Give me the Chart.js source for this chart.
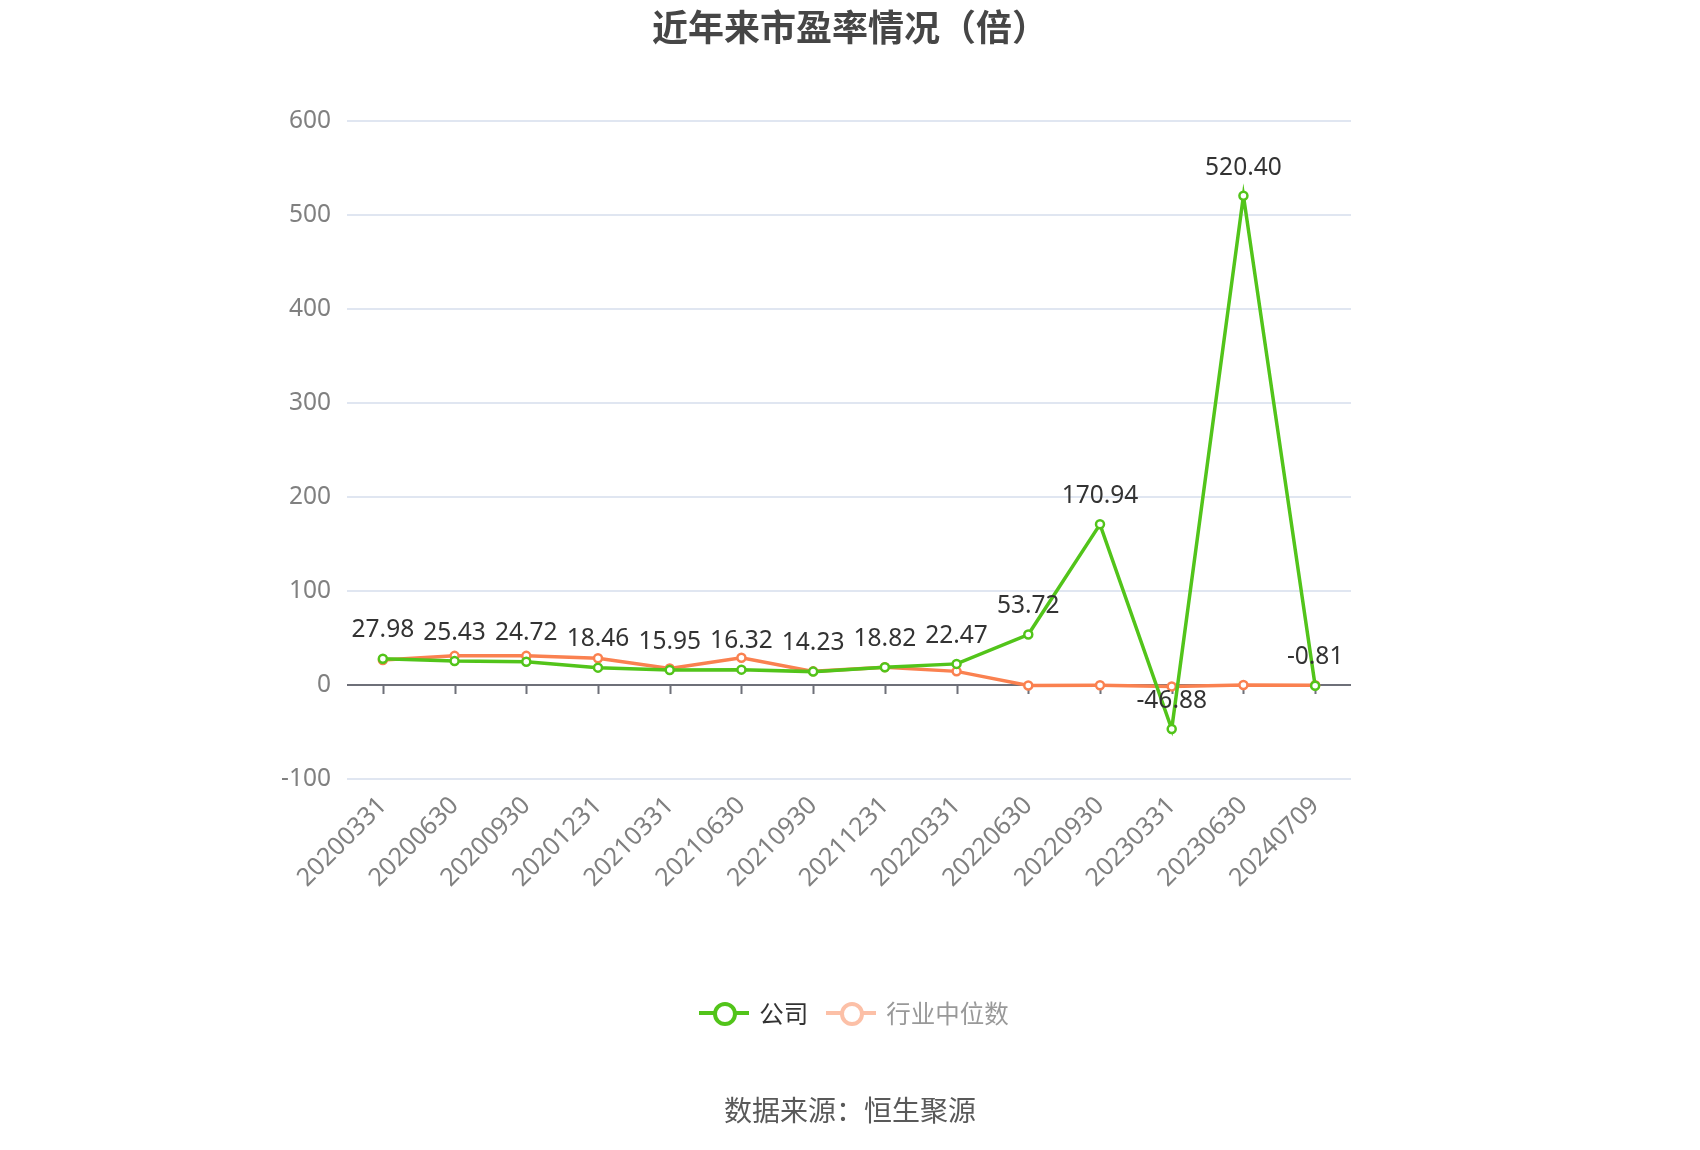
<!DOCTYPE html>
<html>
<head>
<meta charset="utf-8">
<script src="https://cdn.jsdelivr.net/npm/chart.js@4/dist/chart.umd.min.js"></script>
<style>
  body { margin: 0; background: #fff; }
  #wrap { position: relative; width: 1700px; height: 1150px; font-family: "Noto Sans", "Noto Sans CJK SC", sans-serif; }
  #chart { position: absolute; left: 0; top: 0; }
  .title { position: absolute; left: 0; top: -1px; width: 1700px; text-align: center; font-size: 36px; font-weight: bold; color: #464646; font-family: "Noto Sans CJK SC", sans-serif; }
  .legend { position: absolute; left: 4px; top: 995px; width: 1700px; display: flex; justify-content: center; align-items: center; font-size: 24.5px; font-family: "Noto Sans CJK SC", sans-serif; }
  .item { display: flex; align-items: center; margin: 0 9px; }
  .mark { position: relative; width: 50px; height: 30px; margin-right: 10px; }
  .mark .ln { position: absolute; left: 0; top: 13px; width: 50px; height: 4px; }
  .mark .dot { position: absolute; left: 14px; top: 4px; width: 16px; height: 16px; border-radius: 50%; background: #fff; border-width: 4px; border-style: solid; }
  .source { position: absolute; left: 0; top: 1089px; width: 1700px; text-align: center; font-size: 28px; color: #595959; font-family: "Noto Sans CJK SC", sans-serif; }
</style>
</head>
<body>
<div id="wrap">
  <canvas id="chart" width="1700" height="1150"></canvas>
  <div class="title">近年来市盈率情况（倍）</div>
  <div class="legend">
    <div class="item"><div class="mark"><div class="ln" style="background:#52c41a"></div><div class="dot" style="border-color:#52c41a"></div></div><span style="color:#333">公司</span></div>
    <div class="item"><div class="mark" style="opacity:0.5"><div class="ln" style="background:#fa8150"></div><div class="dot" style="border-color:#fa8150"></div></div><span style="color:#999">行业中位数</span></div>
  </div>
  <div class="source">数据来源：恒生聚源</div>
</div>
<script>
var dates = ['20200331', '20200630', '20200930', '20201231', '20210331', '20210630', '20210930',
             '20211231', '20220331', '20220630', '20220930', '20230331', '20230630', '20240709'];
var company = [27.98, 25.43, 24.72, 18.46, 15.95, 16.32, 14.23, 18.82, 22.47, 53.72, 170.94, -46.88, 520.40, -0.81];
var industry = [26.5, 31.0, 31.0, 28.5, 17.5, 29.0, 14.5, 19.0, 14.5, -0.5, -0.3, -1.5, 0.0, -0.2];
var yTicks = [-100, 0, 100, 200, 300, 400, 500, 600];

var green = '#52c41a';
var orange = '#fa8150';

// zero line ticks + value labels for the company series
var extras = {
    id: 'extras',
    beforeDatasetsDraw: function (chart) {
        var ctx = chart.ctx, x = chart.scales.x, y = chart.scales.y;
        var y0 = y.getPixelForValue(0);
        ctx.save();
        ctx.strokeStyle = '#6e7079';
        ctx.lineWidth = 2;
        ctx.beginPath();
        ctx.moveTo(chart.chartArea.left, y0);
        ctx.lineTo(chart.chartArea.right, y0);
        for (var i = 0; i < dates.length; i++) {
            var px = Math.round(x.getPixelForValue(i)) + 0.5;
            ctx.moveTo(px, y0);
            ctx.lineTo(px, y0 + 9);
        }
        ctx.stroke();
        ctx.restore();
    },
    afterDatasetsDraw: function (chart) {
        var ctx = chart.ctx;
        var meta = chart.getDatasetMeta(0);
        ctx.save();
        ctx.font = '24.5px "Noto Sans", sans-serif';
        ctx.fillStyle = '#333';
        ctx.textAlign = 'center';
        ctx.textBaseline = 'bottom';
        meta.data.forEach(function (pt, i) {
            ctx.fillText(company[i].toFixed(2), pt.x, pt.y - 16);
        });
        ctx.restore();
    }
};

new Chart(document.getElementById('chart').getContext('2d'), {
    type: 'line',
    data: {
        labels: dates,
        datasets: [{
            label: '公司',
            data: company,
            borderColor: green,
            backgroundColor: '#fff',
            borderWidth: 3.5,
            pointRadius: 4,
            pointBorderWidth: 2.5,
            pointBackgroundColor: '#fff',
            pointBorderColor: green,
            tension: 0
        }, {
            label: '行业中位数',
            data: industry,
            borderColor: orange,
            backgroundColor: '#fff',
            borderWidth: 3.5,
            pointRadius: 4,
            pointBorderWidth: 2.5,
            pointBackgroundColor: '#fff',
            pointBorderColor: orange,
            tension: 0
        }]
    },
    options: {
        responsive: false,
        animation: false,
        devicePixelRatio: 1,
        layout: { padding: { left: 0, right: 349, top: 121, bottom: 0 } },
        plugins: {
            legend: { display: false },
            title: { display: false },
            tooltip: { enabled: false }
        },
        scales: {
            x: {
                offset: true,
                grid: { display: false, drawTicks: false },
                border: { display: false },
                ticks: {
                    color: '#808080',
                    font: { size: 25, family: '"Noto Sans", sans-serif' },
                    minRotation: 45,
                    maxRotation: 45,
                    padding: 12
                },
                afterFit: function (s) { s.height = 371; }
            },
            y: {
                min: -100,
                max: 600,
                afterBuildTicks: function (s) { s.ticks = yTicks.map(function (v) { return { value: v }; }); },
                grid: {
                    color: '#e0e6f1',
                    lineWidth: 2,
                    drawTicks: false
                },
                border: { display: false },
                ticks: {
                    color: '#808080',
                    font: { size: 24.5, family: '"Noto Sans", sans-serif' },
                    padding: 16
                },
                afterFit: function (s) { s.width = 347; }
            }
        }
    },
    plugins: [extras]
});
</script>
</body>
</html>
